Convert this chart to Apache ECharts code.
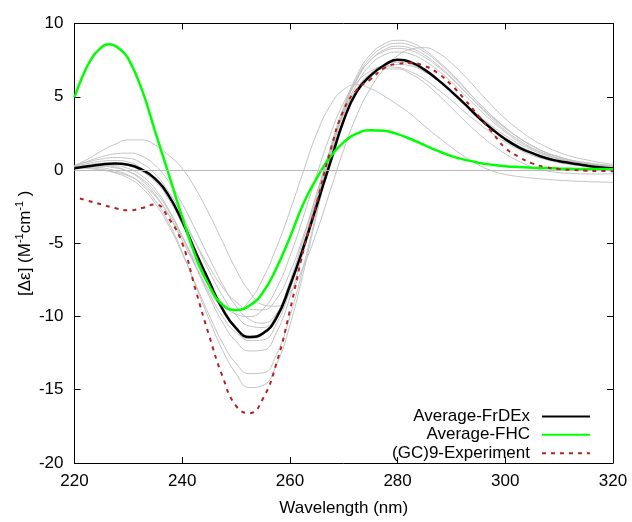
<!DOCTYPE html>
<html><head><meta charset="utf-8">
<script src="https://cdn.jsdelivr.net/npm/echarts@6/dist/echarts.min.js"></script>
<style>html,body{margin:0;padding:0;background:#fff}#c{width:632px;height:522px}</style>
</head><body><div id="c"></div>
<script>
// wavelengths (nm) for the main curves
const wl = [220,222.5,225,227.5,230,232.5,235,237.5,240,242.5,245,247.5,250,252.5,255,257.5,260,262.5,265,267.5,270,272.5,275,277.5,280,282.5,285,287.5,290,292.5,295,297.5,300,302.5,305,307.5,310,312.5,315,317.5,320];
const frdex = [0.12,0.25,0.38,0.44,0.36,0.02,-0.6,-1.75,-3.5,-5.6,-7.6,-9.5,-10.8,-11.4,-11.15,-10.1,-7.9,-5.3,-2.4,0.5,3.4,5.4,6.45,7.15,7.52,7.35,6.85,6.15,5.35,4.5,3.6,2.8,2.1,1.55,1.15,0.82,0.6,0.45,0.3,0.18,0.1];
const fhcWl = [220,221.5,223,224.5,226.5,228.5,230,232.5,235,237.5,240,242.5,245,247.5,250,252.5,255,257.5,260,262.5,265,267.5,270,272.5,275,277.5,280,282.5,285,287.5,290,292.5,295,297.5,300,302.5,305,307.5,310,312.5,315,317.5,320];
const fhc = [4.96,6.4,7.5,8.2,8.59,8.22,7.6,5.5,2.6,-0.3,-3.2,-5.9,-7.9,-9.2,-9.55,-9.25,-8.35,-6.7,-4.6,-2.3,-0.55,0.9,1.9,2.5,2.72,2.68,2.45,2.1,1.7,1.3,0.95,0.7,0.5,0.36,0.26,0.2,0.16,0.13,0.1,0.08,0.07,0.06,0.05];
const expWl = [221,222.5,225,227.5,230,232.5,235,237.5,240,242.5,245,247.5,250,252.5,255,257.5,260,262.5,265,267.5,270,272.5,275,277.5,280,282.5,285,287.5,290,292.5,295,297.5,300,302.5,305,307.5,310,312.5,315,317.5,320];
const experiment = [-1.95,-2.1,-2.35,-2.6,-2.75,-2.6,-2.35,-3.3,-5.0,-8.2,-11.3,-14.1,-16.1,-16.6,-15.6,-13.2,-9.6,-5.5,-2.2,1.3,4.1,5.5,6.2,6.95,7.25,7.3,7.1,6.6,5.8,4.8,3.7,2.6,1.5,0.9,0.45,0.2,0.06,0.0,-0.05,-0.07,-0.08];
// individual runs (grey), same 2.5 nm grid as wl
const g1 = [0.3,0.75,1.3,1.75,2.05,2.05,1.7,1.0,0.1,-1.3,-3.0,-4.9,-6.8,-8.3,-9.2,-9.3,-8.4,-6.6,-4.2,-1.4,1.4,3.8,5.6,6.9,7.8,8.25,8.35,8.0,7.3,6.4,5.4,4.4,3.5,2.75,2.1,1.6,1.2,0.9,0.7,0.52,0.4];
const g2 = [0.15,0.25,0.3,0.2,-0.1,-0.7,-1.7,-3.1,-4.8,-6.6,-8.2,-9.3,-9.55,-8.9,-7.4,-5.3,-2.8,-0.1,2.5,4.4,5.5,5.82,5.55,5.05,4.45,3.8,3.0,2.25,1.55,0.9,0.35,-0.05,-0.3,-0.45,-0.55,-0.63,-0.7,-0.75,-0.79,-0.82,-0.85];
const g3 = [0.2,0.2,0.15,-0.05,-0.35,-1.0,-2.1,-3.6,-5.6,-7.9,-10.2,-12.3,-13.9,-14.85,-14.7,-13.3,-10.6,-7.0,-3.0,0.9,4.2,6.5,7.9,8.6,8.85,8.7,8.2,7.45,6.6,5.6,4.6,3.7,2.9,2.2,1.65,1.2,0.9,0.65,0.5,0.38,0.3];
const g4 = [0.15,0.1,0.0,-0.2,-0.55,-1.2,-2.3,-3.8,-5.7,-7.8,-9.9,-11.8,-13.2,-13.9,-13.85,-12.6,-10.0,-6.6,-2.8,0.9,4.0,6.3,7.7,8.4,8.65,8.5,8.05,7.35,6.5,5.55,4.6,3.7,2.9,2.2,1.65,1.2,0.9,0.65,0.5,0.38,0.3];
const g5 = [0.2,0.3,0.35,0.3,0.1,-0.4,-1.3,-2.7,-4.5,-6.6,-8.6,-10.4,-11.7,-12.35,-12.3,-11.1,-8.7,-5.6,-2.2,1.2,4.1,6.2,7.5,8.2,8.45,8.3,7.85,7.15,6.3,5.35,4.4,3.5,2.7,2.05,1.5,1.1,0.8,0.57,0.42,0.32,0.25];
const g6 = [0.25,0.45,0.6,0.65,0.55,0.1,-0.7,-2.0,-3.7,-5.8,-7.8,-9.6,-10.9,-11.65,-11.6,-10.5,-8.2,-5.2,-2.0,1.2,3.9,5.9,7.2,7.85,8.05,7.9,7.45,6.8,6.0,5.1,4.2,3.35,2.6,1.95,1.45,1.05,0.75,0.55,0.4,0.28,0.2];
const g7 = [0.2,0.25,0.25,0.15,-0.1,-0.6,-1.5,-2.8,-4.5,-6.5,-8.4,-10.0,-11.1,-11.5,-11.2,-9.9,-7.6,-4.7,-1.6,1.4,3.9,5.6,6.6,7.15,7.35,7.2,6.75,6.1,5.3,4.45,3.6,2.85,2.2,1.65,1.2,0.88,0.62,0.45,0.32,0.22,0.15];
const g8 = [0.3,0.6,0.9,1.1,1.15,0.95,0.3,-0.8,-2.3,-4.1,-6.0,-7.8,-9.3,-10.2,-10.45,-9.8,-8.0,-5.3,-2.2,0.9,3.5,5.3,6.4,7.0,7.2,7.1,6.7,6.1,5.35,4.55,3.75,3.0,2.35,1.8,1.35,1.0,0.72,0.52,0.37,0.25,0.15];
const g9 = [0.2,0.15,0.05,-0.15,-0.4,-0.9,-1.8,-3.0,-4.6,-6.3,-7.9,-9.1,-9.85,-10.0,-9.5,-8.1,-5.9,-3.2,-0.3,2.4,4.6,6.0,6.75,7.05,7.0,6.7,6.2,5.5,4.75,3.95,3.2,2.5,1.9,1.4,1.0,0.72,0.5,0.35,0.25,0.17,0.1];
const g10 = [0.2,0.35,0.45,0.45,0.3,-0.1,-0.8,-1.9,-3.4,-5.0,-6.6,-8.0,-9.0,-9.5,-9.55,-8.8,-7.0,-4.5,-1.6,1.3,3.8,5.5,6.5,6.9,6.9,6.55,5.95,5.15,4.25,3.35,2.5,1.75,1.1,0.6,0.2,-0.05,-0.18,-0.24,-0.27,-0.27,-0.26];
const g11 = [0.3,0.55,0.75,0.85,0.8,0.45,-0.3,-1.5,-3.1,-5.0,-6.9,-8.6,-9.9,-10.65,-10.75,-9.9,-7.9,-5.0,-1.8,1.5,4.3,6.3,7.5,8.1,8.3,8.15,7.7,7.05,6.25,5.35,4.45,3.6,2.85,2.2,1.65,1.2,0.88,0.63,0.45,0.33,0.25];
const grays = [g1,g2,g3,g4,g5,g6,g7,g8,g9,g10,g11];
const xTicks = {min:220, max:320, interval:20};
const yTicks = {min:-20, max:10, interval:5};
const names = ['Average-FrDEx','Average-FHC','(GC)9-Experiment'];

const FF = '"Liberation Sans", Arial, sans-serif';
const chart = echarts.init(document.getElementById('c'), null, {renderer:'canvas'});
const pairs = (xs, ys) => xs.map((x,i)=>[x, ys[i]]);
const series = [];
grays.forEach((g,i)=>{
  series.push({type:'line', data:pairs(wl,g), smooth:0.5, symbol:'none', silent:true, z:1,
    lineStyle:{color:'#c2c2c2', width:1},
    markLine: i===0 ? {silent:true, symbol:'none', label:{show:false}, lineStyle:{color:'#b8b8b8', width:1, type:'solid'}, data:[{yAxis:0}]} : undefined});
});
series.push({name:names[0], type:'line', data:pairs(wl,frdex), smooth:0.5, symbol:'none', z:3, lineStyle:{color:'#000', width:2.5}, itemStyle:{color:'#000'}});
series.push({name:names[1], type:'line', data:pairs(fhcWl,fhc), smooth:0.5, symbol:'none', z:4, lineStyle:{color:'#00ff00', width:2.5}, itemStyle:{color:'#00ff00'}});
series.push({name:names[2], type:'line', data:pairs(expWl,experiment), smooth:0.5, symbol:'none', z:5, lineStyle:{color:'#b22222', width:2, type:[4,5]}, itemStyle:{color:'#b22222'}});

const axisCommon = {axisLine:{show:true, onZero:false, lineStyle:{color:'#000', width:1}}, axisTick:{show:true, inside:true, length:6, lineStyle:{color:'#000'}}, splitLine:{show:false}};
const leg = (n, top) => ({data:[n], orient:'vertical', right:41, top:top, align:'right', padding:0, itemWidth:48, itemHeight:14, selectedMode:false,
  itemStyle:{opacity:0, borderWidth:0},
  textStyle:{fontSize:17, color:'#000', fontFamily:FF, padding:[0,7,0,0]}});

chart.setOption({
  animation:false,
  backgroundColor:'#fff',
  grid:{left:74.5, right:19, top:23.5, bottom:56.3, containLabel:false},
  legend:[leg(names[0],408), leg(names[1],426.3), leg(names[2],444.7)],
  xAxis:[
    Object.assign({type:'value', position:'bottom', min:xTicks.min, max:xTicks.max, interval:xTicks.interval,
      name:'Wavelength (nm)', nameLocation:'middle', nameGap:37, nameTextStyle:{fontSize:17, color:'#000', fontFamily:FF},
      axisLabel:{fontSize:17, color:'#000', fontFamily:FF, margin:10}}, axisCommon),
    Object.assign({type:'value', position:'top', min:xTicks.min, max:xTicks.max, interval:xTicks.interval, axisLabel:{show:false}}, axisCommon)
  ],
  yAxis:[
    Object.assign({type:'value', position:'left', min:yTicks.min, max:yTicks.max, interval:yTicks.interval,
      name:'{a|[Δε] (M}{b|-1}{a|cm}{b|-1}{a| )}', nameLocation:'middle', nameRotate:90, nameGap:38, nameMoveOverlap:false,
      nameTextStyle:{rich:{a:{fontSize:17, color:'#000', fontFamily:FF, lineHeight:22}, b:{fontSize:11, color:'#000', fontFamily:FF, verticalAlign:'top'}}},
      axisLabel:{fontSize:17, color:'#000', fontFamily:FF, margin:11}}, axisCommon),
    Object.assign({type:'value', position:'right', min:yTicks.min, max:yTicks.max, interval:yTicks.interval, axisLabel:{show:false}}, axisCommon)
  ],
  series:series
});
</script></body></html>
